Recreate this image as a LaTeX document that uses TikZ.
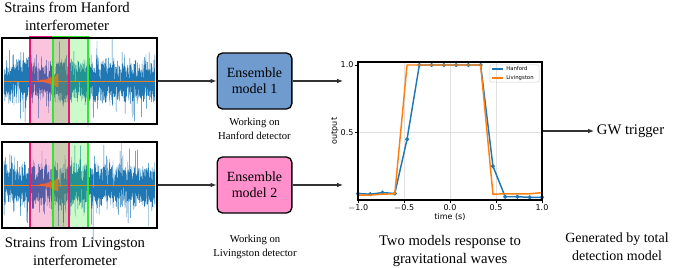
\documentclass[tikz,border=0pt]{standalone}
\usepackage{fontspec}
\setmainfont{Liberation Serif}
\newfontfamily\plotfont{DejaVu Sans}
\usetikzlibrary{arrows.meta,positioning}
\definecolor{mplblue}{HTML}{1F77B4}
\definecolor{mplorange}{HTML}{FF7F0E}
\definecolor{chirporange}{HTML}{E8801E}
\definecolor{ensblue}{HTML}{6F9BCF}
\definecolor{enspink}{HTML}{FF90CC}
\definecolor{winpink}{HTML}{F0147A}
\definecolor{wingreen}{HTML}{2EEA2E}

\tikzset{
  wavebox/.style={draw, line width=1.5pt, minimum width=116pt, minimum height=64.5pt, inner sep=0pt},
  noiseline/.style={mplblue, line width=0.3pt},
  chirpline/.style={chirporange, line width=0.7pt},
  pinkwin/.style={draw=winpink, line width=1.2pt, fill=winpink, fill opacity=0.25},
  greenwin/.style={draw=wingreen, line width=1.2pt, fill=wingreen, fill opacity=0.25},
  ensbox/.style={draw, line width=1pt, rounded corners=4pt, minimum width=56pt, minimum height=42pt, align=center, font=\fontsize{10.5}{12}\selectfont},
  note/.style={align=center, font=\fontsize{8}{10}\selectfont},
  caption/.style={align=center, font=\fontsize{11}{13.5}\selectfont},
  flow/.style={draw=black!80, line width=0.8pt, -{Latex[length=4.5pt,width=3.5pt]}},
  tick/.style={font=\plotfont\fontsize{6}{7}\selectfont, inner sep=1pt}
}

% strain trace: #1 centre line, #2 seed
\newcommand{\strainnoise}[2]{%
  \pgfmathsetmacro{\ctr}{#1}
  \pgfmathsetseed{#2}
  \draw[noiseline] plot[domain=4:155, samples=1500] (\x, {\ctr + rand*19 + rand*5 + rand*36*rnd^6});
  \draw[chirpline] (4,\ctr) -- (155,\ctr);
  \draw[chirpline] plot[domain=38:58, samples=300] (\x, {\ctr + (0.8+6*((\x-38)/20)^3)*sin(50*(\x-38)+18*(\x-38)^2)});
}

\begin{document}
\begin{tikzpicture}[x=0.75pt, y=-0.75pt]
\useasboundingbox (0,0) rectangle (676,268);

% Hanford strain
\strainnoise{81}{11}
\draw[pinkwin] (30,37) rectangle (69,124);
\draw[greenwin] (53,37) rectangle (88,124);
\draw[winpink, line width=1.2pt] (69,37) -- (69,124);
\node[wavebox] (hanwave) at (79.5,81) {};
\node[caption] (hantitle) at (67,16) {Strains from Hanford\\interferometer};

% Livingston strain
\strainnoise{185}{23}
\draw[pinkwin] (30,142) rectangle (69,228);
\draw[greenwin] (53,142) rectangle (88,228);
\draw[winpink, line width=1.2pt] (69,142) -- (69,228);
\node[wavebox] (livwave) at (79.5,185) {};
\node[caption] (livtitle) at (75,251) {Strains from Livingston\\interferometer};

% ensemble models
\node[ensbox, fill=ensblue] (ens1) at (254.5,81) {Ensemble\\model 1};
\node[ensbox, fill=enspink] (ens2) at (254.5,185) {Ensemble\\model 2};
\node[note, below=3pt of ens1] (hannote) {Working on\\Hanford detector};
\node[note] (livnote) at (255,247) {Working on\\Livingston detector};

\draw[flow] (hanwave.east) -- (ens1.west);
\draw[flow] (livwave.east) -- (ens2.west);

% response plot
\draw[black!12, line width=0.5pt] (404,62) -- (404,200) (450,62) -- (450,200) (496,62) -- (496,200) (358,132.5) -- (542,132.5);
\begin{scope}[shift={(450,200)}, x=69pt, y=101.25pt]
  \draw[mplblue, line width=1.1pt] plot[mark=*, mark size=0.9pt] coordinates {(-1,0.048) (-0.867,0.043) (-0.733,0.055) (-0.6,0.048) (-0.467,0.45) (-0.333,1) (-0.2,1) (-0.067,1) (0.067,1) (0.2,1) (0.333,1) (0.467,0.25) (0.6,0.024) (0.733,0.024) (0.867,0.02) (1,0.02)};
  \draw[mplorange, line width=1.1pt] plot[mark=square*, mark size=0.9pt] coordinates {(-1,0.036) (-0.867,0.036) (-0.733,0.043) (-0.6,0.046) (-0.467,1) (-0.333,1) (-0.2,1) (-0.067,1) (0.067,1) (0.2,1) (0.333,1) (0.467,0.043) (0.6,0.046) (0.733,0.046) (0.867,0.046) (1,0.055)};
\end{scope}
\node[draw, line width=0.8pt, minimum width=138pt, minimum height=103.5pt, inner sep=0pt] (plotbox) at (450,131) {};

% ticks
\foreach \t/\lab in {358/$-$1.0, 404/$-$0.5, 450/0.0, 496/0.5, 542/1.0}
  \draw (\t,200) -- (\t,203) node[tick, anchor=north] {\lab};
\foreach \v/\lab in {65/1.0, 132.5/0.5}
  \draw (358,\v) -- (355,\v) node[tick, anchor=east] {\lab};
\node[tick, rotate=90] (ylab) at (335,131) {output};
\node[tick] (xlab) at (450,217) {time (s)};

% legend
\node[draw=black!20, line width=0.4pt, rounded corners=1pt, minimum width=37pt, minimum height=13pt, inner sep=0pt] (legend) at (514.5,73.5) {};
\node[font=\plotfont\fontsize{4}{5}\selectfont, anchor=west, inner sep=0pt] (leghan) at (506,69) {Hanford};
\node[font=\plotfont\fontsize{4}{5}\selectfont, anchor=west, inner sep=0pt] (leglv) at (506,78) {Livingston};
\draw[mplblue, line width=0.8pt] (492,69) -- (503,69);
\fill[mplblue] (497.5,69) circle (0.8pt);
\draw[mplorange, line width=0.8pt] (492,78) -- (503,78);
\fill[mplorange] (496.7,77.2) rectangle (498.3,78.8);

\coordinate (in1) at (343,81);
\coordinate (in2) at (343,185);
\draw[flow] (ens1.east) -- (in1);
\draw[flow] (ens2.east) -- (in2);

\node[caption] (plotcap) at (450,251) {Two models response to\\gravitational waves};

% trigger
\node[caption, anchor=west, inner sep=2pt] (gw) at (594,131) {GW trigger};
\draw[flow] (plotbox.east) -- (gw.west);
\node[caption, font=\fontsize{10.5}{13.5}\selectfont] (gencap) at (617,247) {Generated by total\\detection model};
\end{tikzpicture}
\end{document}
